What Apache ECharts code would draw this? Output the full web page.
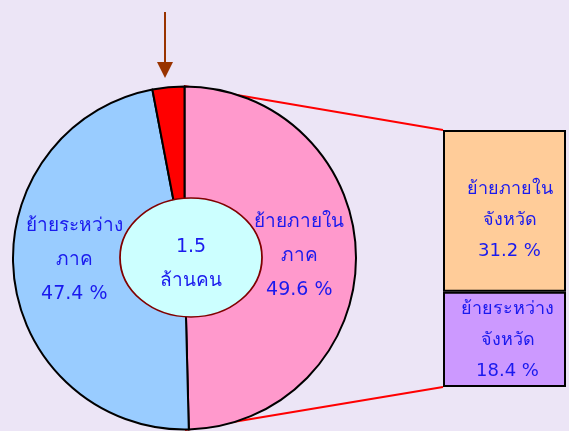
<!DOCTYPE html>
<html><head><meta charset="utf-8">
<script src="https://cdn.jsdelivr.net/npm/echarts@6/dist/echarts.min.js"></script>
<style>html,body{margin:0;padding:0;background:#ECE5F6}#c{width:569px;height:431px}</style>
</head><body><div id="c"></div>
<script>
const pieNames = ['ย้ายภายใน\nภาค', 'ย้ายระหว่าง\nภาค', 'อื่นๆ'];
const pieValues = [49.6, 47.4, 3.0];
const pieColors = ['#FF99CC', '#99CCFF', '#FF0000'];
const barNames = ['ย้ายระหว่าง\nจังหวัด', 'ย้ายภายใน\nจังหวัด'];
const barValues = [18.4, 31.2];
const barColors = ['#CC99FF', '#FFCC99'];
const centerText = '1.5\nล้านคน';

const FONT = 'Tahoma, "DejaVu Sans", "Noto Sans", sans-serif';
const TXT = '#1a1aee';
const chart = echarts.init(document.getElementById('c'));
const pieOffsets = [[26, -1], [-22, -7], [0, 0]];
const barOffsets = [[3, 1], [5, 9]];

chart.setOption({
  backgroundColor: '#ECE5F6',
  animation: false,
  grid: {left: 443, top: 130, width: 123, height: 257},
  xAxis: {type: 'category', data: ['x'], show: false},
  yAxis: {type: 'value', min: 0, max: pieValues[0], show: false},
  series: [
    {
      type: 'pie', center: [184.5, 258], radius: [0, 171.5], startAngle: 90, clockwise: true,
      z: 3,
      itemStyle: {borderColor: '#000', borderWidth: 2},
      labelLine: {show: false},
      data: pieValues.map((v, i) => ({
        name: pieNames[i], value: v,
        itemStyle: {color: pieColors[i]},
        label: {
          show: i < 2, position: 'inside', offset: pieOffsets[i],
          formatter: p => p.name + '\n' + p.value.toFixed(1) + ' %',
          color: TXT, fontSize: 19, fontFamily: FONT, lineHeight: 34
        }
      }))
    },
    ...barValues.map((v, i) => ({
      type: 'bar', stack: 's', barWidth: '100%', z: 3,
      data: [v],
      itemStyle: {color: barColors[i], borderColor: '#000', borderWidth: 2},
      label: {
        show: true, position: 'inside', offset: barOffsets[i],
        formatter: () => barNames[i] + '\n' + v.toFixed(1) + ' %',
        color: TXT, fontSize: 18, fontFamily: FONT, lineHeight: 31
      }
    }))
  ],
  graphic: [
    {type: 'line', z: 1, shape: {x1: 184, y1: 86, x2: 443, y2: 130}, style: {stroke: '#FF0000', lineWidth: 2}},
    {type: 'line', z: 1, shape: {x1: 185, y1: 430, x2: 443, y2: 387}, style: {stroke: '#FF0000', lineWidth: 2}},
    {type: 'line', z: 10, shape: {x1: 165, y1: 12, x2: 165, y2: 64}, style: {stroke: '#993300', lineWidth: 2}},
    {type: 'polygon', z: 10, shape: {points: [[157, 62], [173, 62], [165, 78]]}, style: {fill: '#993300'}},
    {type: 'circle', z: 100, x: 191, y: 257.5, scaleX: 71 / 59.5, scaleY: 1,
      shape: {cx: 0, cy: 0, r: 59.5},
      style: {fill: '#CCFFFF', stroke: '#800000', lineWidth: 1.5, strokeNoScale: true}},
    {type: 'text', z: 101, x: 191, y: 264,
      style: {text: centerText, fill: TXT, font: '19px ' + FONT, align: 'center', verticalAlign: 'middle', lineHeight: 34}}
  ]
});
</script></body></html>
